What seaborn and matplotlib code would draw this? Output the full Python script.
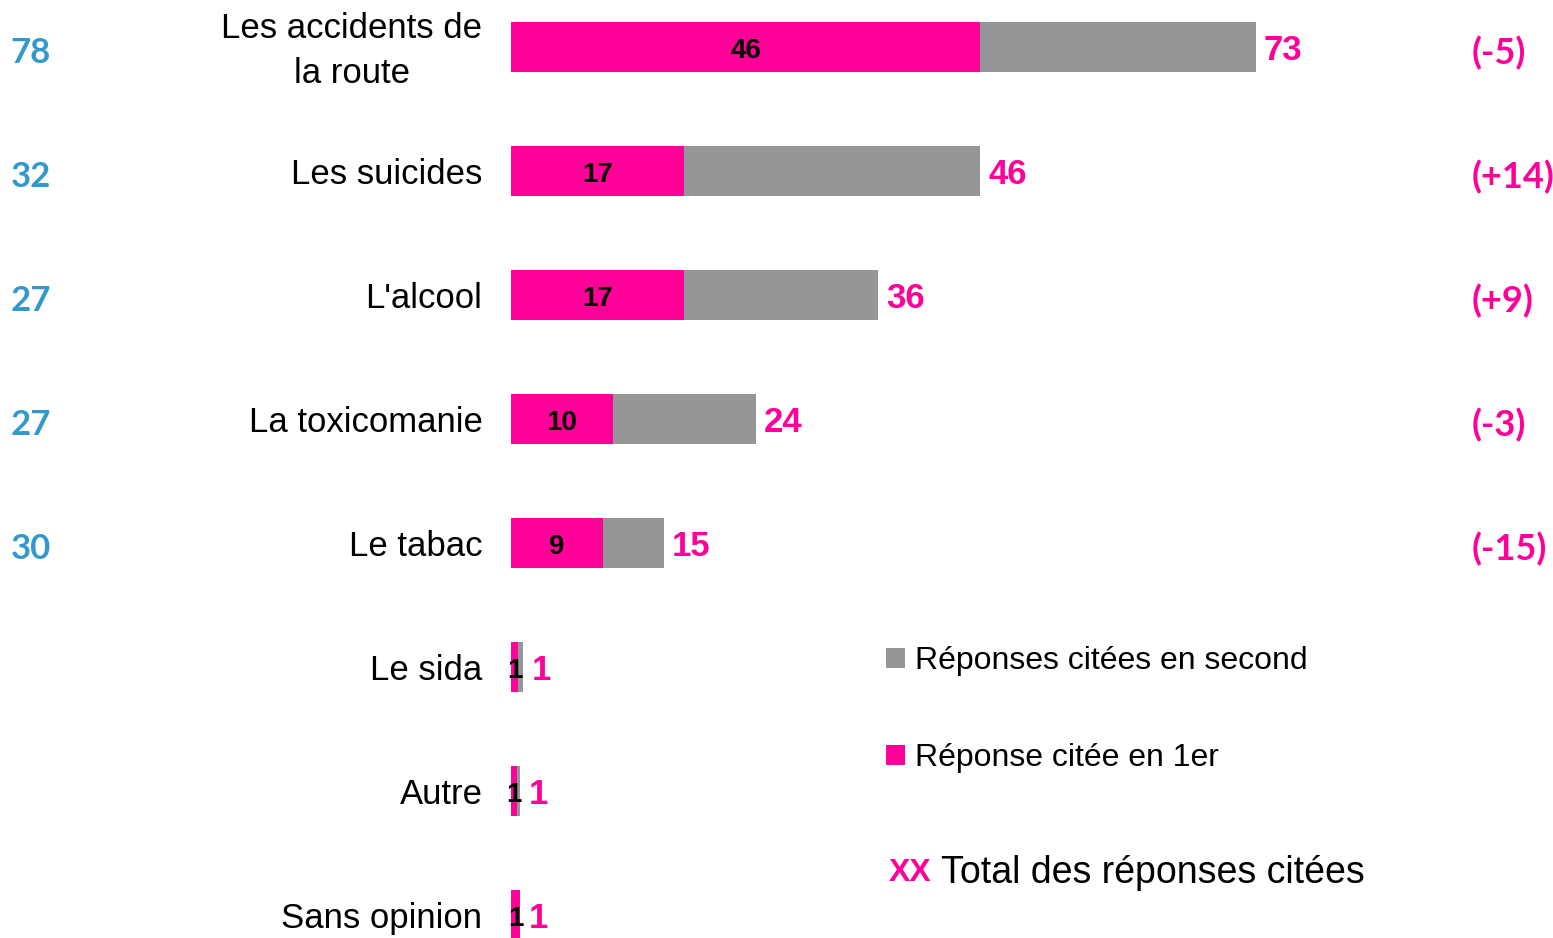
"""
Barres empilées : réponse citée en 1er / en second
"""

import pandas as pd
import numpy as np
import matplotlib
matplotlib.use("Agg")
import matplotlib.pyplot as plt
import seaborn as sns

# données
categories = ["Les accidents de\nla route", "Les suicides", "L'alcool", "La toxicomanie",
              "Le tabac", "Le sida", "Autre", "Sans opinion"]
premier = [46, 17, 17, 10, 9, 0.7, 0.6, 0.9]
second = [27, 29, 19, 14, 6, 0.5, 0.3, 0.0]
premier_lbl = ["46", "17", "17", "10", "9", "1", "1", "1"]
total_lbl = ["73", "46", "36", "24", "15", "1", "1", "1"]
precedent = ["78", "32", "27", "27", "30"]
evolution = ["(-5)", "(+14)", "(+9)", "(-3)", "(-15)"]

rose = "#FF0099"
gris = "#969696"
bleu = "#3399CC"

df = pd.DataFrame({"cat": categories, "premier": premier, "second": second})
df["total"] = df["premier"] + df["second"]

sns.set_style("white")
plt.rcParams["font.family"] = ["Liberation Sans", "DejaVu Sans"]

fig = plt.figure(figsize=(15.53, 9.38), dpi=100)
ax = fig.add_axes([0, 0, 1, 1])

sns.barplot(data=df, x="total", y="cat", color=gris, saturation=1, width=0.41,
            orient="h", ax=ax, label="Réponses citées en second", linewidth=0)
sns.barplot(data=df, x="premier", y="cat", color=rose, saturation=1, width=0.41,
            orient="h", ax=ax, label="Réponse citée en 1er", linewidth=0)

px = 10.2  # pixels par point
ax.set_xlim(-511 / px, (1553 - 511) / px)
ax.set_ylim((938 - 47) / 124, -47 / 124)
ax.axis("off")

for i, row in df.iterrows():
    ax.text(-2.8, i + 0.03, row["cat"], ha="right", va="center", ma="center",
            fontsize=25, color="black", linespacing=1.45)
    ax.text(row["premier"] / 2, i + 0.03, premier_lbl[i], ha="center", va="center",
            fontsize=20, fontweight="bold", color="black")
    ax.text(row["total"] + 0.8, i + 0.03, total_lbl[i], ha="left", va="center",
            fontsize=25, fontweight="bold", color=rose)

for i, (p, e) in enumerate(zip(precedent, evolution)):
    ax.text(-47.1, i + 0.05, p, ha="center", va="center", fontsize=25,
            fontweight="bold", color=bleu, family=["Lato", "DejaVu Sans"])
    ax.text(94.2, i + 0.05, e, ha="left", va="center", fontsize=26,
            fontweight="bold", color=rose, family=["Lato", "DejaVu Sans"])

# légende
handles, labels = ax.get_legend_handles_labels()
leg = ax.legend(handles, labels, loc="upper left", bbox_to_anchor=(886 / 1553, 1 - 646 / 938),
                frameon=False, fontsize=23, handlelength=0.6, handleheight=0.6,
                handletextpad=0.3, labelspacing=2.1, borderpad=0, borderaxespad=0)
for t in leg.get_texts():
    t.set_color("black")
fig.text(889 / 1553, 1 - 873 / 938, "XX", ha="left", va="center", fontsize=23,
         fontweight="bold", color=rose)
fig.text(941 / 1553, 1 - 873 / 938, "Total des réponses citées", ha="left", va="center",
         fontsize=27, color="black")

plt.savefig("out.png", dpi=100)
